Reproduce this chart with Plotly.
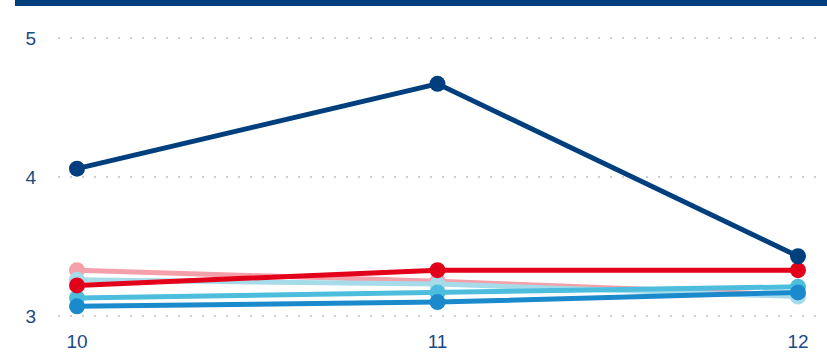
import plotly.graph_objects as go

categories = [10, 11, 12]
series_names = ["Series F", "Series E", "Series D", "Series C", "Series B", "Series A"]
pink_vals = [3.33, 3.25, 3.15]
lightblue_vals = [3.26, 3.23, 3.14]
cyan_vals = [3.13, 3.17, 3.21]
blue_vals = [3.07, 3.10, 3.17]
red_vals = [3.22, 3.33, 3.33]
navy_vals = [4.06, 4.67, 3.43]
y_ticks = [3, 4, 5]

colors = ["#f4a0aa", "#a6dbea", "#4dbddd", "#1b8acd", "#e3001b", "#003f7d"]
values = [pink_vals, lightblue_vals, cyan_vals, blue_vals, red_vals, navy_vals]

fig = go.Figure()
for name, vals, col in zip(series_names, values, colors):
    fig.add_trace(go.Scatter(
        x=categories, y=vals, name=name, mode="lines+markers",
        line=dict(color=col, width=5),
        marker=dict(color=col, size=16),
    ))

W, H = 827, 352
ml, mr, mt, mb = 58, 8, 10, 30
pw = W - ml - mr
ph = H - mt - mb

fig.update_layout(
    width=W, height=H,
    margin=dict(l=ml, r=mr, t=mt, b=mb, autoexpand=False),
    paper_bgcolor="white", plot_bgcolor="white",
    showlegend=False,
    font=dict(family="Liberation Sans, Arial, sans-serif", size=19, color="#1a4a86"),
    xaxis=dict(
        range=[9.9473, 12.0583], tickvals=categories, ticktext=[str(c) for c in categories],
        showgrid=False, zeroline=False, showline=False, automargin=False,
        ticks="outside", ticklen=2, tickcolor="rgba(0,0,0,0)",
    ),
    yaxis=dict(
        range=[2.957, 5.201], tickvals=y_ticks,
        showgrid=True, gridcolor="#cfcfcf", gridwidth=2, griddash="2px,10px",
        zeroline=False, showline=False, automargin=False,
        ticks="outside", ticklen=17, tickcolor="rgba(0,0,0,0)",
    ),
    shapes=[dict(
        type="rect", xref="paper", yref="paper",
        x0=(15 - ml) / pw, x1=(W - ml) / pw + 0.01,
        y0=1 + (mt - 6) / ph, y1=1 + mt / ph + 0.01,
        fillcolor="#003f7d", line=dict(width=0), layer="above",
    )],
)

fig.write_html("out.html", config={"displayModeBar": False},
               post_script="document.body.style.margin='0';")
